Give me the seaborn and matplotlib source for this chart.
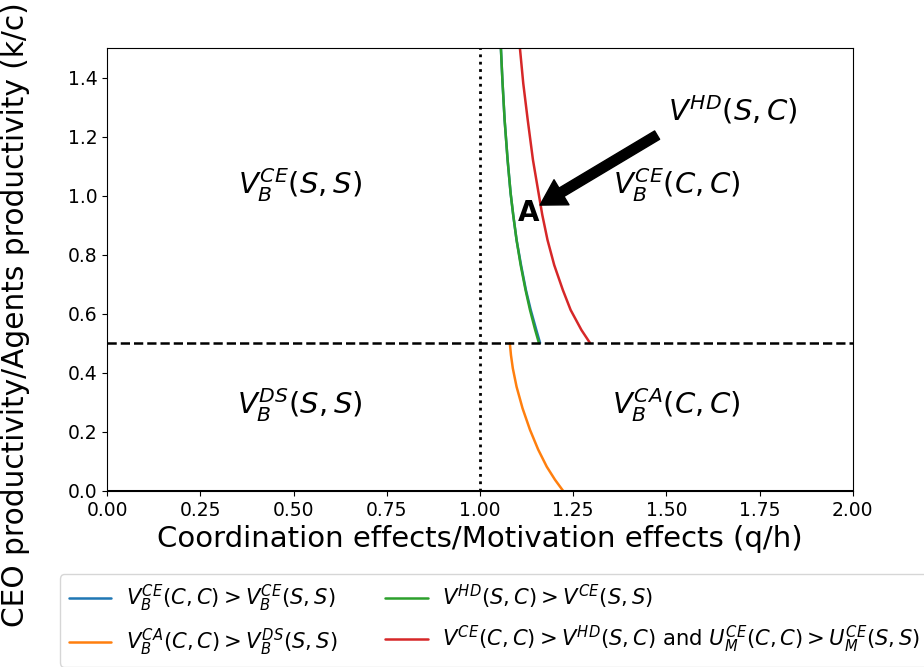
import matplotlib

matplotlib.use("Agg")

import matplotlib.pyplot as plt
import pandas as pd
import seaborn as sns

# boundary curves (x = q/h, y = k/c)
blue_x = [1.056, 1.060, 1.066, 1.074, 1.082, 1.089, 1.098, 1.110, 1.123, 1.136, 1.151, 1.161]
blue_y = [1.500, 1.392, 1.256, 1.121, 1.009, 0.935, 0.850, 0.765, 0.681, 0.613, 0.545, 0.501]
green_x = [1.056, 1.060, 1.066, 1.074, 1.082, 1.089, 1.098, 1.109, 1.122, 1.134, 1.148, 1.158]
green_y = [1.500, 1.392, 1.256, 1.121, 1.009, 0.935, 0.850, 0.765, 0.681, 0.613, 0.545, 0.501]
red_x = [1.107, 1.116, 1.128, 1.142, 1.157, 1.167, 1.181, 1.199, 1.222, 1.243, 1.272, 1.295]
red_y = [1.500, 1.380, 1.256, 1.121, 1.009, 0.935, 0.850, 0.765, 0.681, 0.613, 0.545, 0.501]
orange_x = [1.080, 1.083, 1.088, 1.098, 1.114, 1.134, 1.156, 1.179, 1.201, 1.223]
orange_y = [0.500, 0.460, 0.415, 0.353, 0.280, 0.207, 0.140, 0.082, 0.038, 0.000]

labels = [
    r"$V_B^{CE}(C,C) > V_B^{CE}(S,S)$",
    r"$V_B^{CA}(C,C) > V_B^{DS}(S,S)$",
    r"$V^{HD}(S,C) > V^{CE}(S,S)$",
    r"$V^{CE}(C,C) > V^{HD}(S,C)$ and $U_M^{CE}(C,C) > U_M^{CE}(S,S)$",
]
colors = ["#1f77b4", "#ff7f0e", "#2ca02c", "#d62728"]

region_labels = [r"$V_B^{CE}(S,S)$", r"$V_B^{CE}(C,C)$", r"$V_B^{DS}(S,S)$", r"$V_B^{CA}(C,C)$"]
region_x = [0.517, 1.528, 0.517, 1.528]
region_y = [1.036, 1.036, 0.291, 0.291]

sns.set_style("ticks")
plt.rcParams["font.family"] = ["DejaVu Sans"]
for key in ["text.color", "axes.labelcolor", "xtick.color", "ytick.color", "axes.edgecolor"]:
    plt.rcParams[key] = "black"

fig = plt.figure(figsize=(9.24, 6.67), dpi=100)
ax = fig.add_axes([0.116, 0.264, 0.807, 0.664])

curves = [(blue_x, blue_y), (orange_x, orange_y), (green_x, green_y), (red_x, red_y)]
for (xs, ys), lab, col in zip(curves, labels, colors):
    df = pd.DataFrame({"x": xs, "y": ys})
    sns.lineplot(data=df, x="x", y="y", color=col, linewidth=1.8, label=lab, ax=ax, sort=False)

ax.axvline(1.0, color="black", linestyle=":", linewidth=2)
ax.axhline(0.5, color="black", linestyle="--", linewidth=1.8)
ax.axhline(0.0, color="black", linewidth=2.2)

for txt, tx, ty in zip(region_labels, region_x, region_y):
    ax.text(tx, ty, txt, fontsize=21, ha="center", va="center")

ax.text(1.678, 1.29, r"$V^{HD}(S,C)$", fontsize=21, ha="center", va="center")
ax.annotate(
    "",
    xy=(1.161, 0.968),
    xytext=(1.475, 1.205),
    arrowprops=dict(facecolor="black", edgecolor="black", width=7, headwidth=21, headlength=18, shrink=0.0),
)
ax.text(1.129, 0.94, "A", fontsize=20, fontweight="bold", ha="center", va="center")

ax.set_xlim(0, 2.0)
ax.set_ylim(0, 1.5)
ax.set_xticks([0.0, 0.25, 0.5, 0.75, 1.0, 1.25, 1.5, 1.75, 2.0])
ax.tick_params(labelsize=13.5)
ax.set_xlabel("Coordination effects/Motivation effects (q/h)", fontsize=21)
ax.set_ylabel("CEO productivity/Agents productivity (k/c)", fontsize=21.3)
ax.yaxis.set_label_coords(-0.103, 0.397)

ax.get_legend().remove()
handles, labs = ax.get_legend_handles_labels()
fig.legend(handles, labs, loc="upper left", bbox_to_anchor=(0.065, 0.139), ncol=2, fontsize=15.2,
           frameon=True, handlelength=2.0, borderpad=0.4, labelspacing=0.62, columnspacing=2.3,
           handletextpad=0.7, borderaxespad=0.0)

fig.savefig("out.png", dpi=100)
